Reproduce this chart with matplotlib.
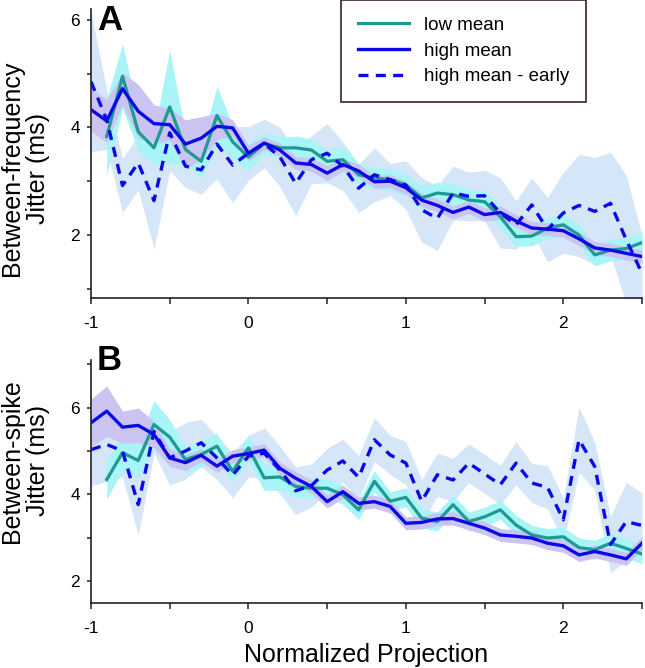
import numpy as np
import matplotlib
matplotlib.use('Agg')
import matplotlib.pyplot as plt
from matplotlib.lines import Line2D

plt.rcParams['font.family'] = ['Liberation Sans', 'DejaVu Sans']

# ─── Data ────────────────────────────────────────────────────────────────────
x_bins = [-1.0, -0.9, -0.8, -0.7, -0.6, -0.5, -0.4, -0.3, -0.2, -0.1,
          0.0, 0.1, 0.2, 0.3, 0.4, 0.5, 0.6, 0.7, 0.8, 0.9,
          1.0, 1.1, 1.2, 1.3, 1.4, 1.5, 1.6, 1.7, 1.8, 1.9,
          2.0, 2.1, 2.2, 2.3, 2.4, 2.5]
nan = np.nan

# Panel A: between-frequency jitter (ms)
low_A = [nan, 3.83, 4.95, 3.92, 3.62, 4.38, 3.59, 3.37, 4.22, 3.73,
         3.45, 3.70, 3.62, 3.62, 3.58, 3.37, 3.40, 3.12, 3.06, 3.03,
         2.93, 2.69, 2.78, 2.75, 2.65, 2.62, 2.34, 1.97, 1.98, 2.13,
         2.19, 2.00, 1.63, 1.72, 1.75, 1.86]
low_A_err = [nan, 0.70, 0.60, 0.35, 0.30, 1.05, 0.30, 0.30, 0.55, 0.30,
             0.25, 0.20, 0.20, 0.22, 0.20, 0.20, 0.25, 0.20, 0.20, 0.20,
             0.20, 0.22, 0.20, 0.20, 0.20, 0.20, 0.20, 0.18, 0.18, 0.20,
             0.20, 0.20, 0.20, 0.20, 0.20, 0.20]
high_A = [4.33, 4.12, 4.72, 4.30, 4.07, 4.05, 3.69, 3.80, 4.02, 3.99,
          3.52, 3.71, 3.58, 3.34, 3.31, 3.15, 3.31, 3.19, 2.99, 3.00,
          2.88, 2.65, 2.55, 2.42, 2.52, 2.38, 2.42, 2.26, 2.13, 2.11,
          2.08, 1.93, 1.76, 1.72, 1.66, 1.60]
high_A_err = [0.40, 0.40, 0.30, 0.50, 0.35, 0.30, 0.45, 0.40, 0.25, 0.15,
              0.15, 0.12, 0.12, 0.12, 0.12, 0.14, 0.12, 0.12, 0.12, 0.12,
              0.12, 0.12, 0.12, 0.12, 0.12, 0.12, 0.12, 0.12, 0.12, 0.12,
              0.12, 0.12, 0.12, 0.12, 0.12, 0.12]
early_A = [4.85, 4.14, 2.92, 3.34, 2.64, 3.90, 3.28, 3.21, 3.69, 3.30,
           3.52, 3.70, 3.45, 2.96, 3.40, 3.52, 3.28, 2.87, 3.12, 3.03,
           2.93, 2.47, 2.31, 2.78, 2.72, 2.73, 2.41, 2.19, 2.56, 2.10,
           2.41, 2.55, 2.44, 2.59, 1.91, 1.29]
early_A_err = [1.30, 0.55, 0.50, 0.50, 0.90, 0.70, 0.40, 0.45, 0.65, 0.70,
               0.50, 0.45, 0.55, 0.60, 0.45, 0.55, 0.45, 0.45, 0.50, 0.30,
               0.45, 0.60, 0.60, 0.50, 0.45, 0.47, 0.65, 0.45, 0.50, 0.60,
               0.75, 0.95, 1.00, 0.95, 1.20, 0.70]

# Panel B: between-spike jitter (ms)
low_B = [nan, 4.34, 4.96, 4.78, 5.61, 5.32, 4.80, 4.92, 5.11, 4.53,
         5.07, 4.38, 4.40, 4.18, 4.14, 4.14, 3.99, 3.64, 4.30, 3.84,
         3.93, 3.45, 3.37, 3.76, 3.37, 3.48, 3.64, 3.29, 3.06, 2.99,
         3.02, 2.77, 2.72, 2.87, 2.75, 2.62]
low_B_err = [nan, 0.45, 0.40, 0.40, 0.55, 0.40, 0.30, 0.30, 0.30, 0.25,
             0.30, 0.30, 0.30, 0.25, 0.22, 0.22, 0.22, 0.22, 0.25, 0.22,
             0.22, 0.22, 0.22, 0.22, 0.22, 0.22, 0.22, 0.22, 0.22, 0.22,
             0.22, 0.22, 0.22, 0.22, 0.22, 0.22]
high_B = [5.65, 5.92, 5.55, 5.59, 5.38, 4.84, 4.73, 4.90, 4.65, 4.88,
          4.94, 5.02, 4.60, 4.37, 4.18, 3.83, 4.06, 3.79, 3.83, 3.72,
          3.33, 3.35, 3.43, 3.44, 3.33, 3.22, 3.06, 3.03, 2.99, 2.87,
          2.81, 2.60, 2.68, 2.60, 2.51, 2.87]
high_B_err = [0.55, 0.58, 0.37, 0.40, 0.30, 0.20, 0.18, 0.15, 0.15, 0.15,
              0.15, 0.15, 0.15, 0.15, 0.15, 0.15, 0.15, 0.15, 0.15, 0.15,
              0.15, 0.15, 0.15, 0.15, 0.15, 0.15, 0.15, 0.15, 0.15, 0.15,
              0.15, 0.15, 0.15, 0.15, 0.15, 0.15]
early_B = [5.03, 5.15, 5.00, 3.76, 5.45, 4.84, 5.00, 5.19, 4.84, 4.44,
           4.88, 4.95, 4.56, 4.08, 4.20, 4.56, 4.77, 4.39, 5.26, 4.91,
           4.72, 3.84, 4.45, 4.33, 4.72, 4.47, 4.22, 4.72, 4.26, 4.16,
           3.41, 5.26, 4.64, 2.84, 3.37, 3.28]
early_B_err = [0.84, 0.85, 0.60, 0.70, 0.50, 0.62, 0.65, 0.55, 0.50, 0.52,
               0.48, 0.58, 0.55, 0.55, 0.50, 0.50, 0.50, 0.50, 0.50, 0.45,
               0.50, 0.50, 0.50, 0.50, 0.45, 0.45, 0.45, 0.50, 0.45, 0.50,
               0.50, 0.75, 0.55, 0.65, 0.90, 0.75]

legend_labels = ['low mean', 'high mean', 'high mean - early']
x_ticks = [-1, -0.5, 0, 0.5, 1, 1.5, 2, 2.5]
x_ticklabels = ['-1', '', '0', '', '1', '', '2', '']

# ─── Style ───────────────────────────────────────────────────────────────────
GREEN = '#1d9a92'
BLUE = '#0a0ae6'
BAND_EARLY = '#d4e6f7'
BAND_LOW = '#a8f4f6'
BAND_HIGH = '#cbc4f2'
AXIS = '#222222'

fig = plt.figure(figsize=(6.45, 6.68), dpi=100)
W, H = 645.0, 668.0

def px_axes(left, top, right, bottom):
    return fig.add_axes([left / W, 1 - bottom / H, (right - left) / W, (bottom - top) / H])

def band(ax, y, err, color):
    y = np.asarray(y)
    err = np.asarray(err)
    ax.fill_between(x_bins, y - err, y + err, color=color, lw=0, zorder=1)

def draw_panel(ax, low, low_err, high, high_err, early, early_err, ylim, yticks, yticklabels):
    band(ax, early, early_err, BAND_EARLY)
    band(ax, low, low_err, BAND_LOW)
    band(ax, high, high_err, BAND_HIGH)
    ax.plot(x_bins, low, color=GREEN, lw=2.3, zorder=3)
    ax.plot(x_bins, high, color=BLUE, lw=2.4, zorder=4)
    ax.plot(x_bins, early, color=BLUE, lw=2.4, dashes=(3, 2.2), zorder=4)
    ax.set_xlim(-1, 2.5)
    ax.set_ylim(*ylim)
    ax.set_xticks(x_ticks)
    ax.set_xticklabels(x_ticklabels)
    ax.set_yticks(yticks)
    ax.set_yticklabels(yticklabels)
    for s in ['top', 'right']:
        ax.spines[s].set_visible(False)
    for s in ['left', 'bottom']:
        ax.spines[s].set_color(AXIS)
        ax.spines[s].set_linewidth(1.2)
    ax.tick_params(axis='x', direction='out', length=4, width=1.1, color=AXIS,
                   labelsize=12.5, pad=9)
    ax.tick_params(axis='y', direction='out', length=3, width=1.1, color=AXIS,
                   labelsize=12.5, pad=5)

# ─── Panel A ─────────────────────────────────────────────────────────────────
axA = px_axes(91, 9, 642, 298)
draw_panel(axA, low_A, low_A_err, high_A, high_A_err, early_A, early_A_err,
           (0.83, 6.2), [1, 2, 3, 4, 5, 6], ['', '2', '', '4', '', '6'])

# ─── Panel B ─────────────────────────────────────────────────────────────────
axB = px_axes(91, 360, 642, 603)
draw_panel(axB, low_B, low_B_err, high_B, high_B_err, early_B, early_B_err,
           (1.49, 7.1), [2, 3, 4, 5, 6, 7], ['2', '', '4', '', '6', ''])

# ─── Labels ──────────────────────────────────────────────────────────────────
fig.text(366 / W, 1 - 662 / H, 'Normalized Projection', ha='center',
         va='baseline', fontsize=18)
fig.text(25 / W, 1 - 168 / H, 'Between-frequency\nJitter (ms)', rotation=90,
         ha='center', va='center', fontsize=18, multialignment='center',
         linespacing=1.1)
fig.text(25 / W, 1 - 461 / H, 'Between-spike\nJitter (ms)', rotation=90,
         ha='center', va='center', fontsize=18, multialignment='center',
         linespacing=1.1)
fig.text(97 / W, 1 - 20 / H, 'A', fontsize=25, fontweight='bold', va='center')
fig.text(97 / W, 1 - 361 / H, 'B', fontsize=25, fontweight='bold', va='center')

# ─── Legend ──────────────────────────────────────────────────────────────────
handles = [Line2D([], [], color=GREEN, lw=2.3),
           Line2D([], [], color=BLUE, lw=2.4),
           Line2D([], [], color=BLUE, lw=2.4, dashes=(3, 2.2))]
leg = fig.legend(handles, legend_labels, loc='upper left',
                 bbox_to_anchor=(341 / W, 1.0), bbox_transform=fig.transFigure,
                 fontsize=13.5, frameon=True, fancybox=False, framealpha=1,
                 edgecolor='#3c1e32', handlelength=2.7, handletextpad=0.8,
                 labelspacing=0.45, borderpad=0.9, borderaxespad=0)
leg.get_frame().set_linewidth(1.2)

fig.savefig('out.png', dpi=100)
